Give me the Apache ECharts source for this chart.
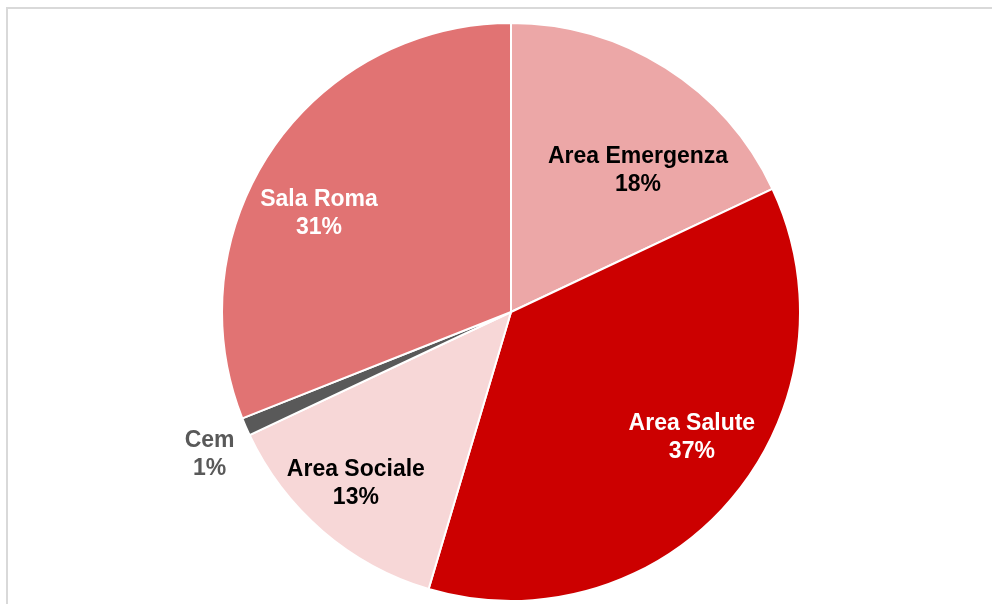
<!DOCTYPE html>
<html>
<head>
<meta charset="utf-8">
<script src="https://cdn.jsdelivr.net/npm/echarts@6/dist/echarts.min.js"></script>
<style>
  html, body { margin: 0; padding: 0; background: #fff; overflow: hidden; }
  #frame { position: absolute; left: 6px; top: 7px; width: 1000px; height: 620px; border: 2px solid #d9d9d9; box-sizing: border-box; }
  #chart { position: absolute; left: 0; top: 0; width: 992px; height: 604px; }
</style>
</head>
<body>
<div id="frame"></div>
<div id="chart"></div>
<script>
const categories = ['Area Emergenza', 'Area Salute', 'Area Sociale', 'Cem', 'Sala Roma']
const values = [18, 36.6, 13.4, 1, 31]
const colors = ['#eca7a7', '#cc0000', '#f7d7d7', '#595959', '#e17373']
const labelColors = ['#000', '#fff', '#000', '#595959', '#fff']
// label nudges away from the default inside position
const labelShift = [[48, -17], [69, 30], [-59, 60], [-166, 84], [-70, -15]]

const chart = echarts.init(document.getElementById('chart'))

chart.setOption({
  animation: false,
  series: [{
    type: 'pie',
    center: [511, 312],
    radius: 289,
    startAngle: 90,
    clockwise: true,
    percentPrecision: 0,
    avoidLabelOverlap: false,
    itemStyle: { borderColor: '#fff', borderWidth: 2 },
    label: {
      show: true,
      position: 'inside',
      formatter: '{b}\n{d}%',
      fontFamily: 'Liberation Sans, Arial, sans-serif',
      fontWeight: 'bold',
      fontSize: 23,
      lineHeight: 28,
      align: 'center'
    },
    labelLine: { show: false },
    emphasis: { disabled: true },
    labelLayout: p => ({ dx: labelShift[p.dataIndex][0], dy: labelShift[p.dataIndex][1] }),
    data: categories.map((name, i) => ({
      name,
      value: values[i],
      itemStyle: { color: colors[i] },
      label: { color: labelColors[i] }
    }))
  }]
})
</script>
</body>
</html>
